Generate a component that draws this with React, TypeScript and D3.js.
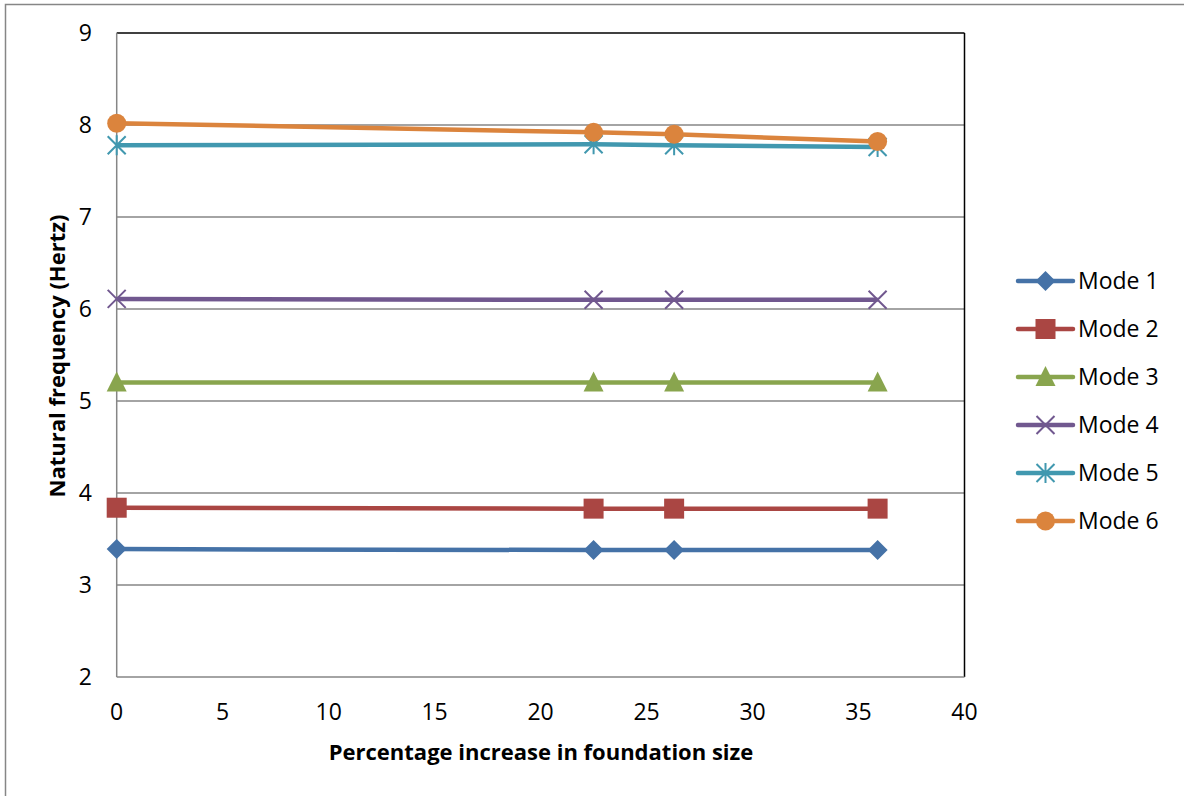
import React from "react";
import * as d3 from "d3";

const xValues = [0, 22.5, 26.3, 35.9];
const seriesNames = ["Mode 1", "Mode 2", "Mode 3", "Mode 4", "Mode 5", "Mode 6"];
const mode1 = [3.39, 3.38, 3.38, 3.38];
const mode2 = [3.84, 3.83, 3.83, 3.83];
const mode3 = [5.2, 5.2, 5.2, 5.2];
const mode4 = [6.11, 6.1, 6.1, 6.1];
const mode5 = [7.78, 7.79, 7.78, 7.76];
const mode6 = [8.02, 7.92, 7.9, 7.82];
const seriesValues = [mode1, mode2, mode3, mode4, mode5, mode6];
const colors = ["#4572A7", "#AA4643", "#89A54E", "#71588F", "#4198AF", "#DB843D"];
const markerTypes = ["diamond", "square", "triangle", "x", "star", "circle"];
const xTicks = [0, 5, 10, 15, 20, 25, 30, 35, 40];
const yTicks = [2, 3, 4, 5, 6, 7, 8, 9];

const FONT = "'Open Sans', sans-serif";

function Marker({ type, x, y, color }: { type: string; x: number; y: number; color: string }) {
  const s = 10;
  if (type === "diamond") {
    return <path d={`M${x},${y - s} L${x + s},${y} L${x},${y + s} L${x - s},${y} Z`} fill={color} />;
  }
  if (type === "square") {
    return <rect x={x - 10} y={y - 10} width={20} height={20} fill={color} />;
  }
  if (type === "triangle") {
    return <path d={`M${x},${y - 11} L${x + 10},${y + 9} L${x - 10},${y + 9} Z`} fill={color} />;
  }
  if (type === "x") {
    const a = 9;
    return (
      <path
        d={`M${x - a},${y - a} L${x + a},${y + a} M${x - a},${y + a} L${x + a},${y - a}`}
        stroke={color}
        strokeWidth={2}
        fill="none"
      />
    );
  }
  if (type === "star") {
    const a = 9;
    return (
      <path
        d={`M${x - a},${y - a} L${x + a},${y + a} M${x - a},${y + a} L${x + a},${y - a} M${x},${y - a - 1} L${x},${y + a + 1}`}
        stroke={color}
        strokeWidth={2}
        fill="none"
      />
    );
  }
  return <circle cx={x} cy={y} r={9.5} fill={color} />;
}

export default function App() {
  const left = 116.7;
  const right = 964.5;
  const top = 33;
  const bottom = 677;
  const x = d3.scaleLinear().domain([0, 40]).range([left, right]);
  const y = d3.scaleLinear().domain([2, 9]).range([bottom, top]);
  const line = d3
    .line<number>()
    .x((_, i) => x(xValues[i]))
    .y((d) => y(d));

  const legendX0 = 1018;
  const legendX1 = 1073;
  const legendY0 = 281;
  const legendStep = 48;

  return (
    <svg
      width={1184}
      height={796}
      style={{ position: "absolute", left: 0, top: 0, background: "#fff" }}
    >
      <rect x={5.5} y={4.5} width={1300} height={900} fill="#fff" stroke="#868686" strokeWidth={1.5} />
      {yTicks.slice(1, -1).map((t) => (
        <line key={t} x1={left} x2={right} y1={y(t)} y2={y(t)} stroke="#868686" strokeWidth={1.5} />
      ))}
      <line x1={left} x2={right} y1={top} y2={top} stroke="#000" strokeWidth={1.5} />
      <line x1={right} x2={right} y1={top} y2={bottom} stroke="#000" strokeWidth={1.5} />
      <line x1={left} x2={left} y1={top} y2={bottom} stroke="#868686" strokeWidth={1.5} />
      <line x1={left} x2={right} y1={bottom} y2={bottom} stroke="#868686" strokeWidth={1.5} />
      {yTicks.map((t) => (
        <text
          key={t}
          x={92}
          y={y(t)}
          dy="0.36em"
          textAnchor="end"
          fontFamily={FONT}
          fontSize={23}
          fill="#000"
        >
          {t}
        </text>
      ))}
      {xTicks.map((t) => (
        <text
          key={t}
          x={x(t)}
          y={712}
          dy="0.36em"
          textAnchor="middle"
          fontFamily={FONT}
          fontSize={23}
          fill="#000"
        >
          {t}
        </text>
      ))}
      <text
        x={541}
        y={752}
        dy="0.36em"
        textAnchor="middle"
        fontFamily={FONT}
        fontSize={22}
        fontWeight="bold"
        fill="#000"
      >
        Percentage increase in foundation size
      </text>
      <text
        transform={`translate(57,356) rotate(-90)`}
        dy="0.36em"
        textAnchor="middle"
        fontFamily={FONT}
        fontSize={22}
        fontWeight="bold"
        fill="#000"
      >
        Natural frequency (Hertz)
      </text>
      {seriesValues.map((vals, si) => (
        <g key={si}>
          <path d={line(vals) || ""} fill="none" stroke={colors[si]} strokeWidth={4.5} strokeLinejoin="round" />
          {vals.map((v, i) => (
            <Marker key={i} type={markerTypes[si]} x={x(xValues[i])} y={y(v)} color={colors[si]} />
          ))}
        </g>
      ))}
      {seriesNames.map((name, si) => {
        const ly = legendY0 + si * legendStep;
        return (
          <g key={name}>
            <line
              x1={legendX0}
              x2={legendX1}
              y1={ly}
              y2={ly}
              stroke={colors[si]}
              strokeWidth={4.5}
              strokeLinecap="round"
            />
            <Marker type={markerTypes[si]} x={(legendX0 + legendX1) / 2} y={ly} color={colors[si]} />
            <text x={1078} y={ly} dy="0.36em" fontFamily={FONT} fontSize={23} fill="#000">
              {name}
            </text>
          </g>
        );
      })}
    </svg>
  );
}
